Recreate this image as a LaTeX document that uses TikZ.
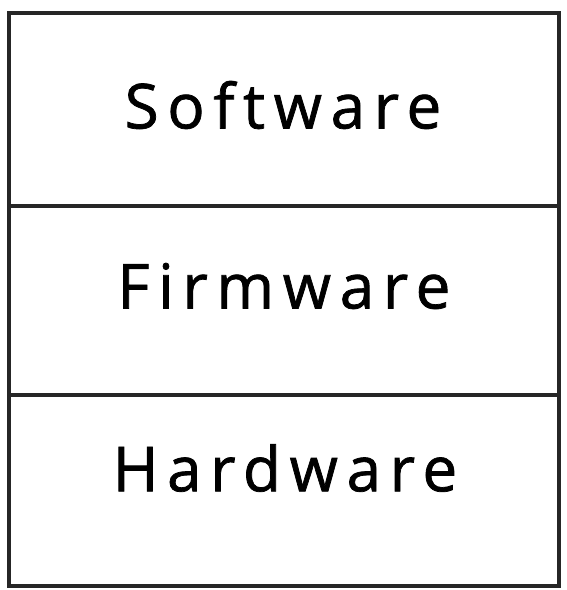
\documentclass[tikz,border=0pt]{standalone}
\usepackage{fontspec}
\setmainfont{Open Sans}
\newfontfamily\handfont[LetterSpace=14,FakeBold=1.2]{Open Sans}
\begin{document}
\begin{tikzpicture}[x=1pt,y=1pt,
  layer/.style={draw=black!85, line width=3.2pt, minimum width=550pt, inner sep=0pt, outer sep=0pt},
  lbl/.style={font=\handfont\fontsize{62}{66}\selectfont, text=black, inner sep=0pt}]
\useasboundingbox (0,0) rectangle (567,-590);
\node[layer, minimum height=193pt] (sw) at (284,-109.5) {};
\node[layer, minimum height=189pt] (fw) at (284,-300.5) {};
\node[layer, minimum height=191pt] (hw) at (284,-490.5) {};
\node[lbl] (tsw) at (283,-105) {Software};
\node[lbl] (tfw) at (284,-286) {Firmware};
\node[lbl] (thw) at (285,-468) {Hardware};
\end{tikzpicture}
\end{document}
